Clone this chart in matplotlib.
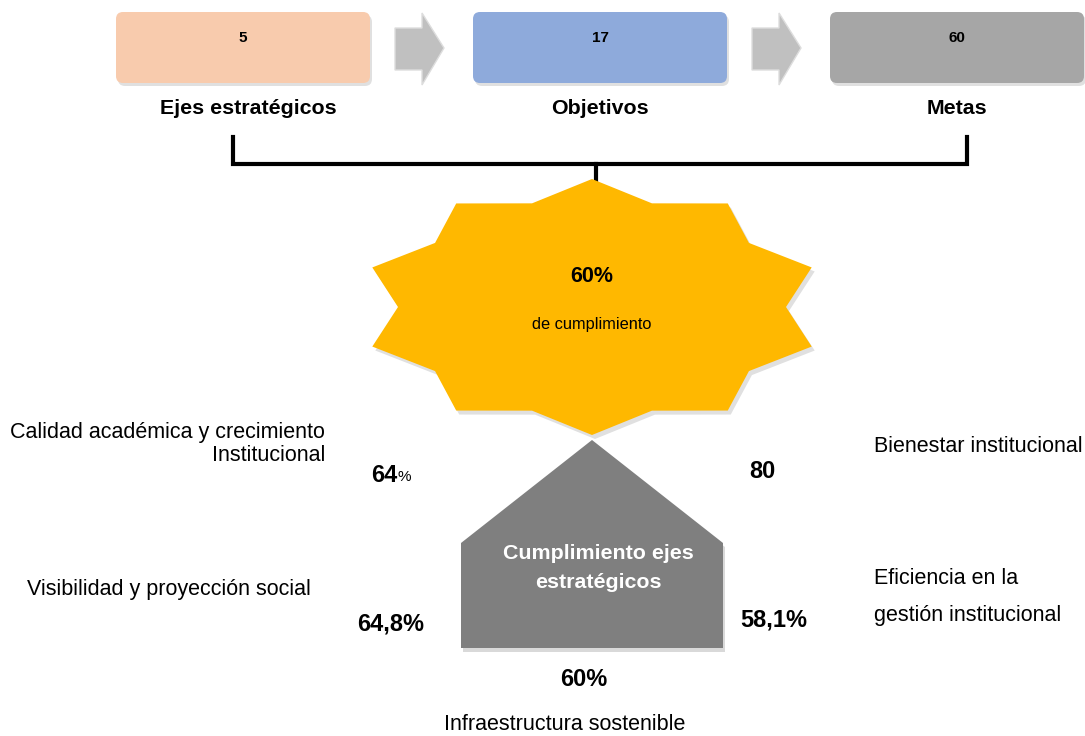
import numpy as np
import matplotlib
matplotlib.use("Agg")
import matplotlib.pyplot as plt
from matplotlib.patches import FancyBboxPatch, Polygon

# datos del plan
niveles = ["Ejes estratégicos", "Objetivos", "Metas"]
conteos = [5, 17, 60]
colores_niveles = ["#F8CBAD", "#8EAADB", "#A6A6A6"]

cumplimiento_total = "60%"
ejes = ["Calidad académica y crecimiento\nInstitucional",
        "Bienestar institucional",
        "Visibilidad y proyección social",
        "Eficiencia en la\ngestión institucional",
        "Infraestructura sostenible"]
valores_ejes = ["64", "80", "64,8%", "58,1%", "60%"]

plt.rcParams["font.family"] = ["Liberation Sans Narrow", "Liberation Sans", "DejaVu Sans"]

fig = plt.figure(figsize=(10.85, 7.36), dpi=100)
ax = fig.add_axes([0, 0, 1, 1])
ax.set_xlim(0, 1085)
ax.set_ylim(736, 0)
ax.axis("off")

# cajas superiores
x_cajas = [116, 473, 830]
for x0, n, col in zip(x_cajas, conteos, colores_niveles):
    sombra = FancyBboxPatch((x0 + 2, 15), 254, 71, boxstyle="round,pad=0,rounding_size=7",
                            fc="#000000", ec="none", alpha=0.12, zorder=1)
    ax.add_patch(sombra)
    caja = FancyBboxPatch((x0, 12), 254, 71, boxstyle="round,pad=0,rounding_size=7",
                          fc=col, ec="none", zorder=2)
    ax.add_patch(caja)
    ax.text(x0 + 127, 38, str(n), ha="center", va="center", fontsize=11,
            fontweight="bold", zorder=3)
etiquetas_x = [248, 600, 957]
for xl, nom in zip(etiquetas_x, niveles):
    ax.text(xl, 109, nom, ha="center", va="center", fontsize=15.4, fontweight="bold")

# flechas
for xa in [395, 752]:
    flecha = Polygon([(xa, 28), (xa + 27, 28), (xa + 27, 13), (xa + 49, 48),
                      (xa + 27, 85), (xa + 27, 70), (xa, 70)],
                     closed=True, fc="#C0C0C0", ec="#DDDDDD", lw=1, zorder=2)
    ax.add_patch(flecha)

# corchete
ax.plot([233, 233, 967, 967], [137, 164, 164, 137], color="black", lw=3,
        solid_joinstyle="miter", zorder=2)
ax.plot([596, 596], [164, 182], color="black", lw=3, zorder=2)

# estrella de 10 puntas
cx, cy = 592, 307
ang = np.deg2rad(90 - np.arange(20) * 18)
rx = np.where(np.arange(20) % 2 == 0, 231, 194)
ry = np.where(np.arange(20) % 2 == 0, 128, 109)
pts = np.column_stack([cx + rx * np.cos(ang), cy - ry * np.sin(ang)])
ax.add_patch(Polygon(pts + [3, 4], closed=True, fc="black", ec="none", alpha=0.12, zorder=3))
ax.add_patch(Polygon(pts, closed=True, fc="#FFB800", ec="none", zorder=4))
ax.text(cx, 277, cumplimiento_total, ha="center", va="center", fontsize=15.5,
        fontweight="bold", zorder=5)
ax.text(cx, 324, "de cumplimiento", ha="center", va="center", fontsize=11.8, zorder=5)

# casa
casa = [(461, 543), (592, 440), (723, 543), (723, 648), (461, 648)]
ax.add_patch(Polygon(np.array(casa) + [2, 4], closed=True, fc="black", ec="none",
                     alpha=0.15, zorder=3))
ax.add_patch(Polygon(casa, closed=True, fc="#7F7F7F", ec="none", zorder=4))
ax.text(598, 568, "Cumplimiento ejes\nestratégicos", ha="center", va="center",
        fontsize=15.4, fontweight="bold", color="white", linespacing=1.7, zorder=5)

# ejes estrategicos
fs = 15.5
ax.text(325, 444, ejes[0], ha="right", va="center", fontsize=fs, linespacing=1.1)
ax.text(874, 446, ejes[1], ha="left", va="center", fontsize=fs)
ax.text(27, 589, ejes[2], ha="left", va="center", fontsize=fs)
ax.text(874, 597, ejes[3], ha="left", va="center", fontsize=fs, linespacing=2.05)
ax.text(565, 725, ejes[4], ha="center", va="center", fontsize=fs)

fv = 17
t64 = ax.text(384, 475, valores_ejes[0], ha="center", va="center", fontsize=fv,
              fontweight="bold")
ax.annotate("%", xy=(1, 0.1), xycoords=t64, ha="left", va="bottom", fontsize=11)
ax.text(762, 471, valores_ejes[1], ha="center", va="center", fontsize=fv, fontweight="bold")
ax.text(391, 624, valores_ejes[2], ha="center", va="center", fontsize=fv, fontweight="bold")
ax.text(774, 620, valores_ejes[3], ha="center", va="center", fontsize=fv, fontweight="bold")
ax.text(584, 680, valores_ejes[4], ha="center", va="center", fontsize=fv, fontweight="bold")

fig.savefig("out.png", dpi=100)
